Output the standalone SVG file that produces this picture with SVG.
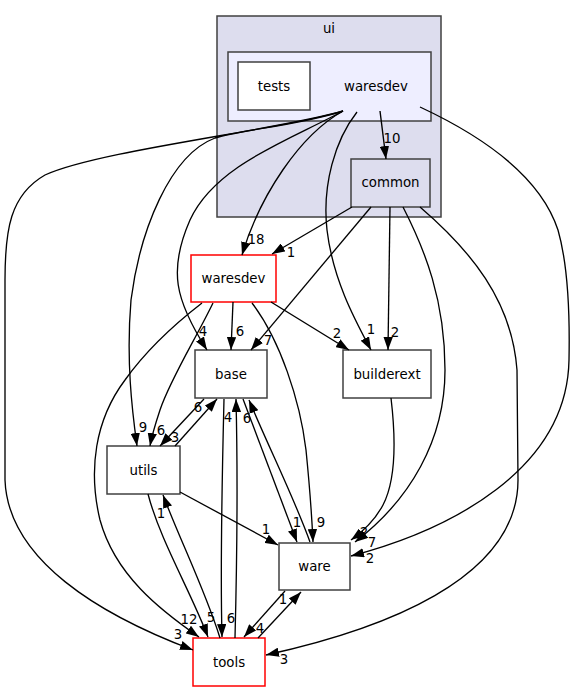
<svg xmlns="http://www.w3.org/2000/svg" width="575" height="692" viewBox="0 0 575 692">
<style>
text{font-family:"DejaVu Sans","Liberation Sans",sans-serif;font-size:13.33px;fill:#000;text-anchor:middle}
.e path{fill:none;stroke:#000;stroke-width:1.33;marker-end:url(#ah)}
.n{fill:#fff;stroke:#404040;stroke-width:1.5}
.r{fill:#fff;stroke:#ff0000;stroke-width:1.5}
.cl{fill:#ddddee;stroke:#404040;stroke-width:1.5}
.cl2{fill:#eeeeff;stroke:#404040;stroke-width:1.5}
</style>
<defs>
<marker id="ah" markerUnits="userSpaceOnUse" viewBox="0 0 13 9.4" refX="13" refY="4.7" markerWidth="13" markerHeight="9.4" orient="auto">
<path d="M0,0 L13,4.7 L0,9.4 z" fill="#000"/>
</marker>
</defs>
<g id="cluster_ui">
<rect class="cl" x="217" y="16" width="224" height="201"/>
<text x="329" y="33">ui</text>
</g>
<g id="cluster_waresdev_ui">
<rect class="cl2" x="228" y="52" width="203" height="69"/>
<text x="376" y="91">waresdev</text>
</g>
<g id="node_tests">
<rect class="n" x="238" y="62" width="72" height="48"/>
<text x="274" y="91">tests</text>
</g>
<g id="node_common">
<rect class="cl" x="351" y="159" width="79" height="48"/>
<text x="390.5" y="187">common</text>
</g>
<g id="node_waresdev">
<rect class="r" x="191" y="255" width="85" height="47"/>
<text x="233.5" y="283">waresdev</text>
</g>
<g id="node_base">
<rect class="n" x="195" y="350" width="72" height="48"/>
<text x="231" y="379">base</text>
</g>
<g id="node_builderext">
<rect class="n" x="343" y="350" width="88" height="48"/>
<text x="387" y="379">builderext</text>
</g>
<g id="node_utils">
<rect class="n" x="107" y="446" width="73" height="48"/>
<text x="143.5" y="475">utils</text>
</g>
<g id="node_ware">
<rect class="n" x="279" y="543" width="71" height="47"/>
<text x="314.5" y="571">ware</text>
</g>
<g id="node_tools">
<rect class="r" x="193" y="638" width="72" height="48"/>
<text x="229" y="667">tools</text>
</g>
<g id="edges" class="e">
<path d="M380,111 L386,159"/>
<text x="392" y="143">10</text>
<path d="M343,111 C 300,135 260,195 242,255"/>
<text x="256" y="244">18</text>
<path d="M357,112 C 335,140 322,185 327,230 C 333,280 355,320 371,350"/>
<text x="371" y="334">1</text>
<path d="M343,111 C 290,140 215,165 190,220 C 168,270 175,300 207,350"/>
<text x="203" y="336">4</text>
<path d="M343,111 C 300,125 240,130 215,138 C 170,155 140,230 131,300 C 126,360 132,410 137,446"/>
<text x="143" y="432">9</text>
<path d="M343,111 C 280,130 100,150 45,175 C 10,195 5,230 5,280 L5,480 C 8,560 100,615 193,650"/>
<text x="178" y="639">3</text>
<path d="M420,107 C 480,135 540,175 558,230 C 568,265 570,310 569,360 C 567,470 450,530 351,556"/>
<text x="370" y="563">2</text>
<path d="M352,207 L272,254"/>
<text x="291" y="257">1</text>
<path d="M371,207 L251,350"/>
<text x="268" y="345">7</text>
<path d="M390,207 L388,350"/>
<text x="395" y="337">2</text>
<path d="M403,207 C 425,250 445,300 445,370 C 445,440 410,500 355,542"/>
<text x="372" y="547">7</text>
<path d="M391,398 C 396,440 396,480 383,505 C 375,520 365,530 351,540"/>
<text x="364" y="537">2</text>
<path d="M420,207 C 470,250 512,300 517,370 L518,480 C 518,580 380,630 266,655"/>
<text x="284" y="664">3</text>
<path d="M233,302 L231,350"/>
<text x="240" y="336">6</text>
<path d="M271,302 L349,350"/>
<text x="337" y="338">2</text>
<path d="M213,303 C 195,340 170,380 160,410 C 155,425 152,435 150,446"/>
<text x="161" y="435">6</text>
<path d="M202,303 C 180,320 150,345 125,380 C 95,420 88,470 100,520 C 115,575 160,610 199,637"/>
<text x="189" y="624">12</text>
<path d="M252,303 C 280,340 300,400 306,450 C 310,490 312,520 313,542"/>
<text x="321" y="527">9</text>
<path d="M204,399 L160,446"/>
<text x="175" y="442">3</text>
<path d="M175,446 L217,399"/>
<text x="198" y="412">6</text>
<path d="M243,399 L297,542"/>
<text x="297" y="527">1</text>
<path d="M310,542 C 295,500 270,450 249,400"/>
<text x="247" y="423">6</text>
<path d="M235,638 C 237,560 238,480 236,399"/>
<text x="228" y="422">4</text>
<path d="M224,399 C 222,480 220,560 222,637"/>
<text x="231" y="623">6</text>
<path d="M148,494 C 160,540 190,590 208,637"/>
<text x="211" y="622">5</text>
<path d="M220,638 C 205,590 180,540 163,495"/>
<text x="161" y="518">1</text>
<path d="M180,492 L278,545"/>
<text x="266" y="534">1</text>
<path d="M285,591 L244,637"/>
<text x="260" y="633">4</text>
<path d="M258,638 L301,592"/>
<text x="283" y="604">1</text>
</g>
</svg>
